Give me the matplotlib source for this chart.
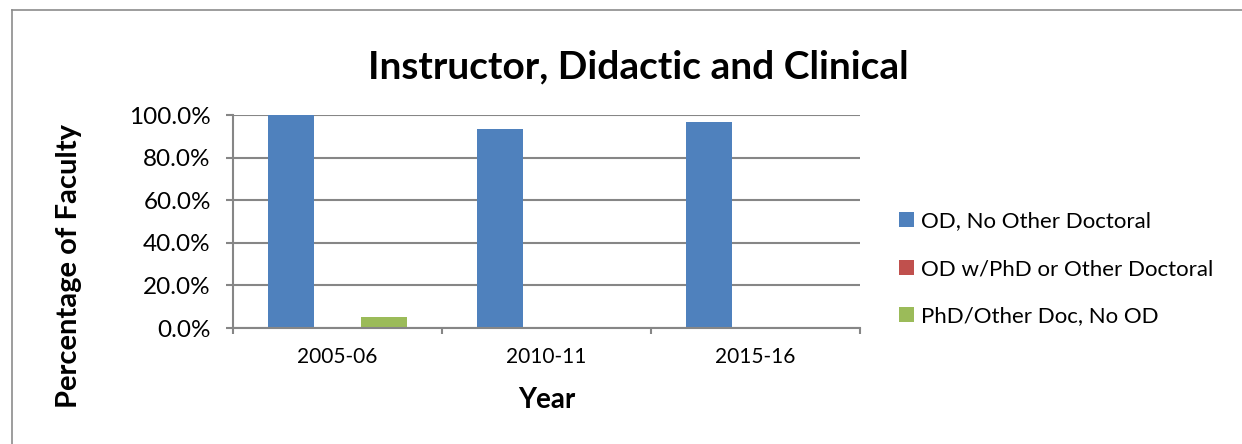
import numpy as np
import matplotlib
matplotlib.use("Agg")
import matplotlib.pyplot as plt
from matplotlib.lines import Line2D

plt.rcParams["font.family"] = ["Lato", "DejaVu Sans"]

years = ["2005-06", "2010-11", "2015-16"]
series_names = ["OD, No Other Doctoral", "OD w/PhD or Other Doctoral",
                "PhD/Other Doc, No OD"]
od_only = [1.000, 0.933, 0.967]
od_phd = [0.0, 0.0, 0.0]
phd_only = [0.05, 0.0, 0.0]
colors = ["#4F81BD", "#C0504D", "#9BBB59"]
grid_color = "#868686"

W, H = 1242, 444
fig = plt.figure(figsize=(W / 100, H / 100), dpi=100)
ax = fig.add_axes([233 / W, 1 - 328 / H, (860 - 233) / W, (328 - 115) / H])

x = np.arange(len(years))
width = 1 / 4.5
for i, (vals, name) in enumerate(zip([od_only, od_phd, phd_only], series_names)):
    ax.bar(x + (i - 1) * width, vals, width, color=colors[i], label=name,
           zorder=3)

ax.set_xlim(-0.5, len(years) - 0.5)
ax.set_ylim(0, 1.0)
ax.set_yticks(np.arange(0, 1.01, 0.2))
ax.set_yticklabels([f"{v * 100:.1f}%" for v in np.arange(0, 1.01, 0.2)])
ax.set_xticks(x)
ax.set_xticklabels(years)
ax.set_xticks(np.arange(-0.5, len(years)), minor=True)
ax.tick_params(axis="x", which="major", length=0, labelsize=15, pad=14)
ax.tick_params(axis="x", which="minor", length=4.5, width=1.5, color=grid_color)
ax.tick_params(axis="y", length=5, width=1.5, color=grid_color, labelsize=17.5,
               pad=11)
ax.yaxis.grid(True, color=grid_color, linewidth=1.5, zorder=0)
for side in ["top", "right"]:
    ax.spines[side].set_visible(False)
for side in ["left", "bottom"]:
    ax.spines[side].set_color(grid_color)
    ax.spines[side].set_linewidth(1.5)
    ax.spines[side].set_zorder(4)

fig.text(638 / W, 1 - 67 / H, "Instructor, Didactic and Clinical",
         ha="center", va="center", fontsize=28, fontweight="bold")
fig.text(69 / W, 1 - 266 / H, "Percentage of Faculty", ha="center",
         va="center", rotation=90, fontsize=21, fontweight="bold")
fig.text(547 / W, 1 - 400 / H, "Year", ha="center", va="center",
         fontsize=20, fontweight="bold")

fig.legend(loc="center left", bbox_to_anchor=(899 / W, 1 - 269 / H),
           bbox_transform=fig.transFigure, frameon=False, fontsize=16,
           handlelength=0.68, handleheight=0.68, handletextpad=0.3,
           labelspacing=1.24, borderaxespad=0, borderpad=0)

fig.add_artist(Line2D([12 / W, 12 / W], [0, 1 - 10 / H], color="#8c8c8c",
                      linewidth=1.2, transform=fig.transFigure))
fig.add_artist(Line2D([12 / W, 1], [1 - 10 / H, 1 - 10 / H], color="#8c8c8c",
                      linewidth=1.2, transform=fig.transFigure))

fig.savefig("out.png", dpi=100, facecolor="white")
